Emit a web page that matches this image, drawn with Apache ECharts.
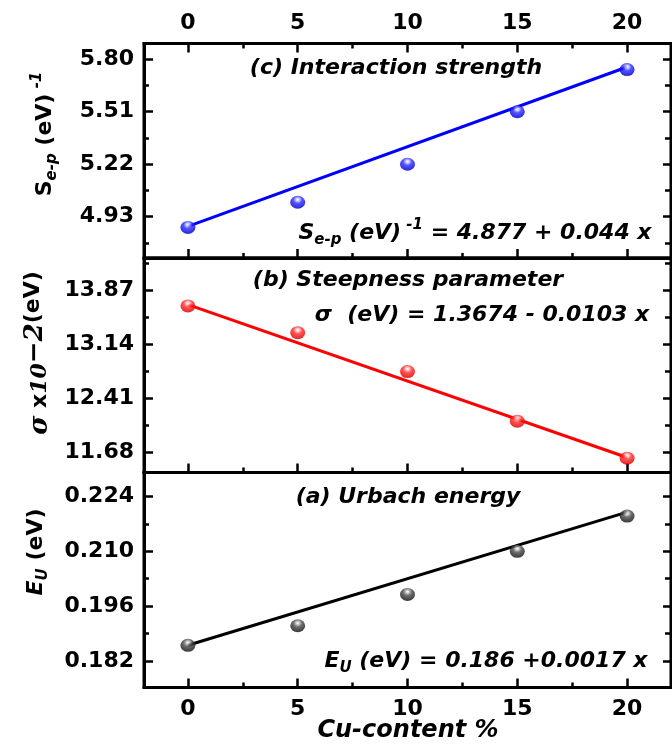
<!DOCTYPE html>
<html>
<head>
<meta charset="utf-8">
<script src="https://cdn.jsdelivr.net/npm/echarts@6/dist/echarts.min.js"></script>
<style>
  html, body { margin: 0; padding: 0; background: #fff; }
  #chart { width: 672px; height: 744px; }
</style>
</head>
<body>
<div id="chart"></div>
<script>
// Cu content of the samples (%)
const cuContent = [0, 5, 10, 15, 20];

// (c) electron-phonon interaction strength S_e-p, (eV)^-1
const interactionStrength = [4.871, 5.010, 5.220, 5.510, 5.743];
// (b) steepness parameter sigma, in units of 10^-2 eV (axis units)
const steepness = [13.655, 13.295, 12.772, 12.104, 11.605];
// (a) Urbach energy E_U, eV
const urbachEnergy = [0.186, 0.191, 0.199, 0.210, 0.219];

// linear fits [intercept, slope] as quoted in each panel
const fitInteraction = [4.877, 0.044];
const fitSteepness = [1.3674, -0.0103];
const fitUrbach = [0.186, 0.0017];
// the sigma fit is quoted in eV; the axis shows it scaled by this factor
const steepnessAxisFactor = 10;

// axis ticks
const xTicks = [0, 5, 10, 15, 20];
const xMinorTicks = [2.5, 7.5, 12.5, 17.5];
const yTicksInteraction = [4.93, 5.22, 5.51, 5.80];
const yMinorInteraction = [4.785, 5.075, 5.365, 5.655];
const yTicksSteepness = [11.68, 12.41, 13.14, 13.87];
const yMinorSteepness = [12.045, 12.775, 13.505, 14.235];
const yTicksUrbach = [0.182, 0.196, 0.210, 0.224];
const yMinorUrbach = [0.189, 0.203, 0.217];

const FONT = 'DejaVu Sans';
const SERIF = 'DejaVu Serif';
const X_MIN = -2, X_MAX = 22;

// panels, top to bottom
const panels = [
  { top: 43.5, height: 214.5, yMin: 4.702, yMax: 5.887, major: yTicksInteraction, minor: yMinorInteraction,
    digits: 2, values: interactionStrength, fit: fitInteraction, fitScale: 1, color: '#0000ff',
    ball: ['#ffffff', '#c4c4ff', '#2a2aff', '#0000e6', '#00007a'], topAxis: true, bottomLabels: false },
  { top: 258, height: 214.6, yMin: 11.411, yMax: 14.301, major: yTicksSteepness, minor: yMinorSteepness,
    digits: 2, values: steepness, fit: fitSteepness, fitScale: steepnessAxisFactor, color: '#ff0000',
    ball: ['#ffffff', '#ffc4c4', '#ff2a2a', '#ee0000', '#8a0000'], topAxis: false, bottomLabels: false },
  { top: 472.6, height: 215, yMin: 0.1752, yMax: 0.2301, major: yTicksUrbach, minor: yMinorUrbach,
    digits: 3, values: urbachEnergy, fit: fitUrbach, fitScale: 1, color: '#000000',
    ball: ['#ffffff', '#c0c0c0', '#4a4a4a', '#1a1a1a', '#000000'], topAxis: false, bottomLabels: true }
];

const tickLabelStyle = { color: '#000', fontFamily: FONT, fontWeight: 'bold', fontSize: 22 };

function axis(opts) {
  return {
    type: 'value',
    gridIndex: opts.grid,
    position: opts.position,
    min: opts.min,
    max: opts.max,
    splitLine: { show: false },
    axisLine: { show: opts.line !== false, onZero: false, lineStyle: { color: '#000', width: 3 } },
    axisTick: {
      show: true, inside: true, length: opts.tickLen,
      customValues: opts.ticks,
      lineStyle: { color: '#000', width: 2.5 }
    },
    axisLabel: opts.labels ? Object.assign({
      show: true, customValues: opts.ticks, margin: opts.margin,
      formatter: opts.formatter
    }, tickLabelStyle) : { show: false }
  };
}

const grid = [], xAxis = [], yAxis = [], series = [];

panels.forEach((p, gi) => {
  grid.push({
    left: 144, right: 1, top: p.top, height: p.height,
    show: true, borderColor: '#000', borderWidth: 3, backgroundColor: 'transparent',
    containLabel: false, outerBoundsMode: 'none'
  });

  const xMain = xAxis.length;
  xAxis.push(axis({ grid: gi, position: 'bottom', min: X_MIN, max: X_MAX, tickLen: 9, ticks: xTicks,
    labels: p.bottomLabels, margin: 11, formatter: v => String(v) }));
  xAxis.push(axis({ grid: gi, position: 'bottom', min: X_MIN, max: X_MAX, tickLen: 5, ticks: xMinorTicks, line: false }));
  if (p.topAxis) {
    xAxis.push(axis({ grid: gi, position: 'top', min: X_MIN, max: X_MAX, tickLen: 9, ticks: xTicks,
      labels: true, margin: 9, formatter: v => String(v) }));
    xAxis.push(axis({ grid: gi, position: 'top', min: X_MIN, max: X_MAX, tickLen: 5, ticks: xMinorTicks, line: false }));
  }

  const yMain = yAxis.length;
  yAxis.push(axis({ grid: gi, position: 'left', min: p.yMin, max: p.yMax, tickLen: 9, ticks: p.major,
    labels: true, margin: 10, formatter: v => v.toFixed(p.digits) }));
  yAxis.push(axis({ grid: gi, position: 'left', min: p.yMin, max: p.yMax, tickLen: 5, ticks: p.minor, line: false }));
  yAxis.push(axis({ grid: gi, position: 'right', min: p.yMin, max: p.yMax, tickLen: 8, ticks: p.major }));
  yAxis.push(axis({ grid: gi, position: 'right', min: p.yMin, max: p.yMax, tickLen: 6, ticks: p.minor, line: false }));

  // fitted straight line, evaluated from the quoted equation at both ends of the Cu range
  const x0 = cuContent[0], x1 = cuContent[cuContent.length - 1];
  const fitLine = [x0, x1].map(x => [x, (p.fit[0] + p.fit[1] * x) * p.fitScale]);
  series.push({
    type: 'line', xAxisIndex: xMain, yAxisIndex: yMain, data: fitLine,
    symbol: 'none', silent: true, z: 2,
    lineStyle: { color: p.color, width: 3 }
  });

  // shaded "sphere" markers
  series.push({
    type: 'scatter', xAxisIndex: xMain, yAxisIndex: yMain,
    data: cuContent.map((x, i) => [x, p.values[i]]),
    symbol: 'circle', symbolSize: [15, 13], z: 3,
    itemStyle: {
      color: {
        type: 'radial', x: 0.5, y: 0.3, r: 0.8,
        colorStops: [
          { offset: 0, color: p.ball[0] },
          { offset: 0.14, color: p.ball[1] },
          { offset: 0.36, color: p.ball[2] },
          { offset: 0.72, color: p.ball[3] },
          { offset: 1, color: p.ball[4] }
        ]
      }
    }
  });
});

// rich text styles shared by labels and equations
function rich(extra) {
  const base = { fontFamily: FONT, fontWeight: 'bold', fill: '#000', color: '#000' };
  const r = {
    b: Object.assign({}, base, { fontSize: 22, lineHeight: 30 }),
    i: Object.assign({}, base, { fontSize: 22, fontStyle: 'italic', lineHeight: 30 }),
    sub: Object.assign({}, base, { fontSize: 15, fontStyle: 'italic', lineHeight: 15, verticalAlign: 'bottom' }),
    sup: Object.assign({}, base, { fontSize: 15, fontStyle: 'italic', lineHeight: 15, verticalAlign: 'top' })
  };
  return Object.assign(r, extra || {});
}

function textEl(x, y, text, opts) {
  opts = opts || {};
  return {
    type: 'text', x: x, y: y, rotation: opts.rotation || 0, z: 100, silent: true,
    style: {
      text: text, rich: opts.rich || rich(),
      fontFamily: FONT, fontWeight: 'bold', fontStyle: opts.italic === false ? 'normal' : 'italic',
      fontSize: opts.size || 22, fill: '#000',
      align: 'center', verticalAlign: 'middle'
    }
  };
}

const num = v => String(Math.abs(v));

const graphic = [
  // panel titles
  textEl(396, 68, '(c) Interaction strength'),
  textEl(408, 280, '(b) Steepness parameter'),
  textEl(408, 497, '(a) Urbach energy'),

  // fit equations
  textEl(475, 233, '{i|S}{sub|e-p}{i| (eV)}{sup| -1}{i| = ' + num(fitInteraction[0]) + ' + ' + num(fitInteraction[1]) + ' x}'),
  textEl(482, 315, '{i|σ  (eV) = ' + num(fitSteepness[0]) + (fitSteepness[1] < 0 ? ' - ' : ' + ') + num(fitSteepness[1]) + ' x}'),
  textEl(486, 661, '{i|E}{sub|U}{i| (eV) = ' + num(fitUrbach[0]) + ' +' + num(fitUrbach[1]) + ' x}'),

  // y-axis titles
  textEl(45, 134, '{b|S}{sub|e-p}{b| (eV)}{sup| -1}', { rotation: Math.PI / 2 }),
  textEl(40, 353, '{sig|σ}{b| x}{ten|10}{big|−2}{ev|(eV)}', {
    rotation: Math.PI / 2,
    rich: rich({
      sig: { fontFamily: SERIF, fontStyle: 'italic', fontWeight: 'bold', fontSize: 26, lineHeight: 36, color: '#000' },
      b: { fontFamily: FONT, fontWeight: 'bold', fontSize: 22, lineHeight: 36, color: '#000' },
      ten: { fontFamily: SERIF, fontStyle: 'italic', fontWeight: 'bold', fontSize: 22, lineHeight: 36, color: '#000' },
      big: { fontFamily: SERIF, fontStyle: 'italic', fontWeight: 'bold', fontSize: 26, lineHeight: 26, verticalAlign: 'top', color: '#000' },
      ev: { fontFamily: FONT, fontWeight: 'bold', fontSize: 22, lineHeight: 30, verticalAlign: 'top', color: '#000' }
    })
  }),
  textEl(36, 552, '{i|E}{sub|U}{b| (eV)}', { rotation: Math.PI / 2 }),

  // x-axis title
  textEl(408, 731, 'Cu-content %', { size: 24 })
];

const chart = echarts.init(document.getElementById('chart'), null, { renderer: 'canvas' });
chart.setOption({
  animation: false,
  backgroundColor: '#fff',
  grid: grid,
  xAxis: xAxis,
  yAxis: yAxis,
  series: series,
  graphic: graphic
});
</script>
</body>
</html>
